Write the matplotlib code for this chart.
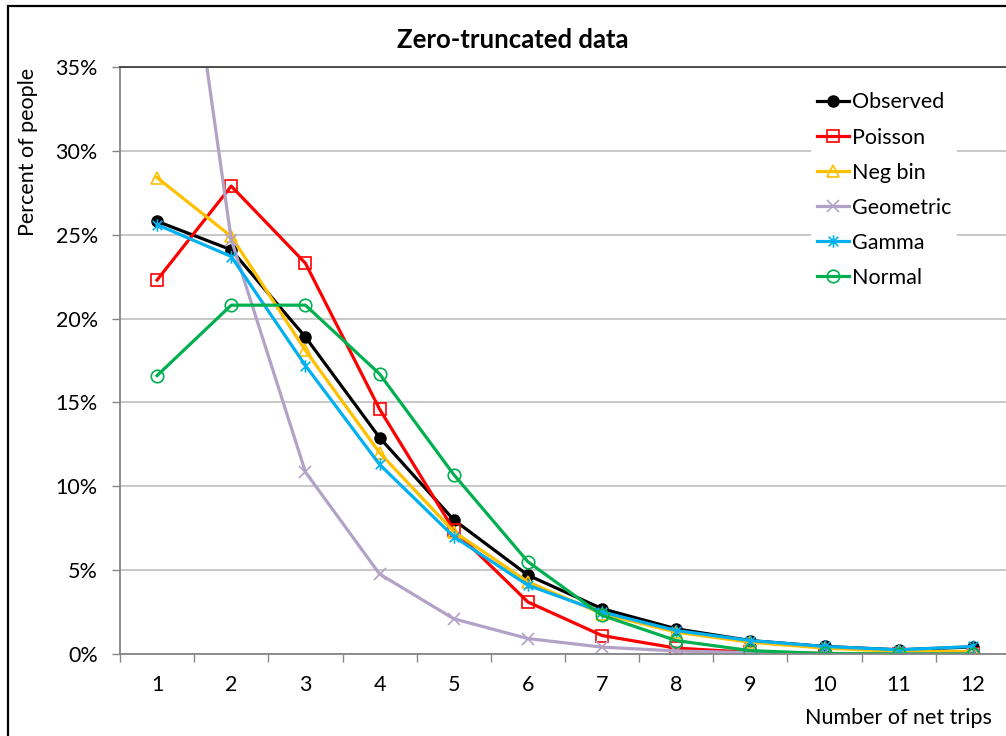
import matplotlib
matplotlib.use("Agg")
import matplotlib.pyplot as plt
from matplotlib.path import Path
from matplotlib.patches import Rectangle
from matplotlib.ticker import FuncFormatter, FixedLocator, NullFormatter

plt.rcParams['font.family'] = ['Lato', 'DejaVu Sans']

# number of net trips and percent of people per distribution
trips = [1, 2, 3, 4, 5, 6, 7, 8, 9, 10, 11, 12]
observed = [25.8, 24.1, 18.9, 12.9, 8.0, 4.7, 2.7, 1.5, 0.8, 0.45, 0.25, 0.42]
poisson = [22.3, 27.9, 23.3, 14.6, 7.4, 3.1, 1.1, 0.35, 0.1, 0.03, 0.01, 0.0]
neg_bin = [28.4, 24.9, 18.1, 12.0, 7.3, 4.3, 2.4, 1.3, 0.7, 0.35, 0.15, 0.15]
geometric = [56.0, 24.7, 10.85, 4.77, 2.1, 0.92, 0.41, 0.18, 0.08, 0.03, 0.02, 0.01]
gamma = [25.6, 23.7, 17.2, 11.3, 7.0, 4.1, 2.5, 1.4, 0.8, 0.45, 0.25, 0.45]
normal = [16.6, 20.8, 20.8, 16.7, 10.7, 5.5, 2.3, 0.8, 0.2, 0.03, 0.0, 0.0]

# Excel-style star marker: an x with a vertical stroke
star = Path([(-1, -1), (1, 1), (-1, 1), (1, -1), (0, -1.3), (0, 1.3)],
            [Path.MOVETO, Path.LINETO, Path.MOVETO, Path.LINETO, Path.MOVETO, Path.LINETO])

series = [
    ('Observed', observed, '#000000', dict(marker='o', ms=8, mfc='#000000')),
    ('Poisson', poisson, '#FF0000', dict(marker='s', ms=9, mfc='none', mew=1.2)),
    ('Neg bin', neg_bin, '#FFC000', dict(marker='^', ms=9, mfc='none', mew=1.2)),
    ('Geometric', geometric, '#B3A2C7', dict(marker='x', ms=8, mew=1.2)),
    ('Gamma', gamma, '#00B0F0', dict(marker=star, ms=9, mew=1.2)),
    ('Normal', normal, '#00B050', dict(marker='o', ms=9, mfc='none', mew=1.2)),
]

fig = plt.figure(figsize=(10.06, 7.36), dpi=100)
ax = fig.add_axes([120 / 1006, 1 - 654 / 736, 890 / 1006, 587 / 736])

for name, vals, col, mk in series:
    ax.plot(trips, vals, color=col, lw=2.3, label=name, clip_on=True, **mk)

ax.set_xlim(0.5, 12.5)
ax.set_ylim(0, 35)

ax.yaxis.set_major_locator(FixedLocator([0, 5, 10, 15, 20, 25, 30, 35]))
ax.yaxis.set_major_formatter(FuncFormatter(lambda v, p: f'{v:.0f}%'))
ax.grid(axis='y', color='#BFBFBF', lw=1.2)
ax.set_axisbelow(True)

# category labels sit between the tick marks
ax.xaxis.set_major_locator(FixedLocator([k + 0.5 for k in range(0, 13)]))
ax.xaxis.set_major_formatter(NullFormatter())
ax.xaxis.set_minor_locator(FixedLocator(trips))
ax.set_xticklabels([str(t) for t in trips], minor=True)
ax.tick_params(axis='x', which='minor', length=0, pad=15, labelsize=15.5)
ax.tick_params(axis='x', which='major', length=6, color='#868686', width=1)
ax.tick_params(axis='y', length=6, color='#868686', width=1, labelsize=15.5, pad=10)

for s in ['left', 'bottom']:
    ax.spines[s].set_color('#868686')
    ax.spines[s].set_linewidth(1.3)
ax.spines['right'].set_visible(False)
ax.spines['top'].set_color('#404040')
ax.spines['top'].set_linewidth(1.3)

fig.text(513 / 1006, 1 - 40 / 736, 'Zero-truncated data', ha='center', va='center',
         fontsize=18.5, fontweight='bold')
ax.set_ylabel('Percent of people', fontsize=15.5)
ax.yaxis.set_label_coords(-0.092, 0.855)
fig.text(992 / 1006, 1 - 718 / 736, 'Number of net trips', ha='right', va='center', fontsize=15.5)

leg = ax.legend(loc='upper left', bbox_to_anchor=(0.764, 0.986), frameon=True, fontsize=15.5,
                handlelength=1.5, handletextpad=0.1, labelspacing=0.7, borderpad=0.3)
leg.get_frame().set_edgecolor('none')
leg.get_frame().set_facecolor('white')
leg.get_frame().set_alpha(1)

# outer chart border
fig.patches.append(Rectangle((8 / 1006, -0.01), 1.0, 1 - 6 / 736 + 0.01, transform=fig.transFigure,
                             fill=False, edgecolor='#000000', lw=1.6))

fig.savefig('out.png', dpi=100)
